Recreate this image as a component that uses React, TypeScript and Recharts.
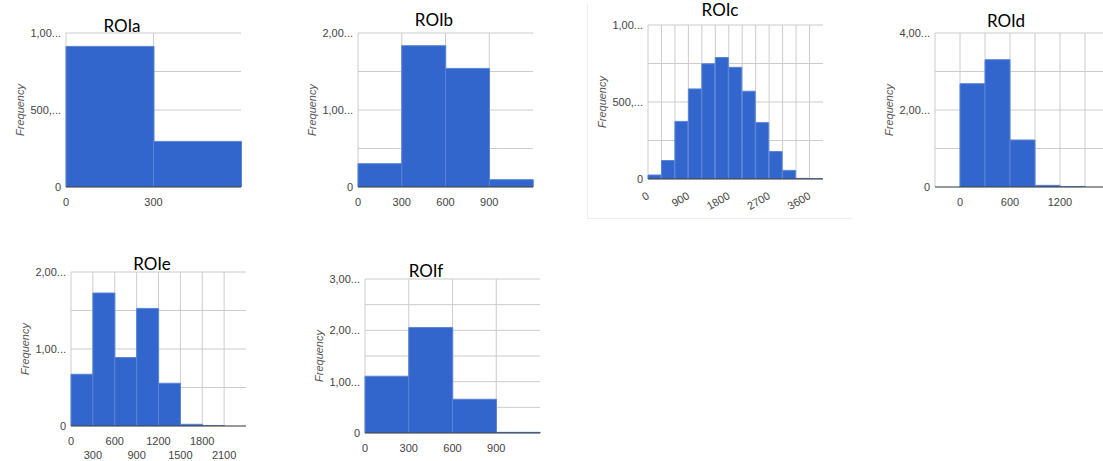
import { BarChart, Bar, XAxis, YAxis, CartesianGrid } from 'recharts';

// bucket width shared by every histogram
const BIN = 300;

const roiaBins = [0, 300];
const roiaCounts = [913, 296];
const roiaXTicks = [0, 300];
const roiaYTicks = [0, 500, 1000];
const roiaYLabels = ['0', '500,...', '1,00...'];

const roibBins = [0, 300, 600, 900];
const roibCounts = [303, 1835, 1540, 95];
const roibXTicks = [0, 300, 600, 900];
const roibYTicks = [0, 1000, 2000];
const roibYLabels = ['0', '1,00...', '2,00...'];

const roicBins = [0, 300, 600, 900, 1200, 1500, 1800, 2100, 2400, 2700, 3000, 3300, 3600];
const roicCounts = [26, 120, 374, 585, 748, 789, 725, 570, 366, 178, 56, 4, 1];
const roicXTicks = [0, 900, 1800, 2700, 3600];
const roicYTicks = [0, 500, 1000];
const roicYLabels = ['0', '500,...', '1,00...'];

const roidBins = [-300, 0, 300, 600, 900, 1200, 1500];
const roidCounts = [0, 2684, 3307, 1221, 43, 5, 0];
const roidXTicks = [0, 600, 1200];
const roidYTicks = [0, 2000, 4000];
const roidYLabels = ['0', '2,00...', '4,00...'];

const roieBins = [0, 300, 600, 900, 1200, 1500, 1800, 2100];
const roieCounts = [672, 1727, 889, 1527, 555, 22, 2, 0];
const roieXTicks = [0, 300, 600, 900, 1200, 1500, 1800, 2100];
const roieYTicks = [0, 1000, 2000];
const roieYLabels = ['0', '1,00...', '2,00...'];

const roifBins = [0, 300, 600, 900];
const roifCounts = [1106, 2056, 657, 13];
const roifXTicks = [0, 300, 600, 900];
const roifYTicks = [0, 1000, 2000, 3000];
const roifYLabels = ['0', '1,00...', '2,00...', '3,00...'];

type TickMode = 'flat' | 'rotated' | 'twoRow';

type PanelCfg = {
  title: string;
  bins: number[];
  counts: number[];
  xTicks: number[];
  yTicks: number[];
  yLabels: string[];
  yMax: number;
  yStep: number;
  tickMode: TickMode;
  plotLeft: number;
  plotTop: number;
  titleX: number;
  titleY: number;
};

const panels: PanelCfg[] = [
  { title: 'ROIa', bins: roiaBins, counts: roiaCounts, xTicks: roiaXTicks, yTicks: roiaYTicks, yLabels: roiaYLabels, yMax: 1000, yStep: 250, tickMode: 'flat', plotLeft: 66, plotTop: 33, titleX: 122, titleY: 26 },
  { title: 'ROIb', bins: roibBins, counts: roibCounts, xTicks: roibXTicks, yTicks: roibYTicks, yLabels: roibYLabels, yMax: 2000, yStep: 500, tickMode: 'flat', plotLeft: 358, plotTop: 33, titleX: 434, titleY: 20 },
  { title: 'ROIc', bins: roicBins, counts: roicCounts, xTicks: roicXTicks, yTicks: roicYTicks, yLabels: roicYLabels, yMax: 1000, yStep: 250, tickMode: 'rotated', plotLeft: 648, plotTop: 25, titleX: 720, titleY: 10 },
  { title: 'ROId', bins: roidBins, counts: roidCounts, xTicks: roidXTicks, yTicks: roidYTicks, yLabels: roidYLabels, yMax: 4000, yStep: 1000, tickMode: 'flat', plotLeft: 935, plotTop: 33, titleX: 1006, titleY: 21 },
  { title: 'ROIe', bins: roieBins, counts: roieCounts, xTicks: roieXTicks, yTicks: roieYTicks, yLabels: roieYLabels, yMax: 2000, yStep: 500, tickMode: 'twoRow', plotLeft: 71, plotTop: 272, titleX: 152, titleY: 264 },
  { title: 'ROIf', bins: roifBins, counts: roifCounts, xTicks: roifXTicks, yTicks: roifYTicks, yLabels: roifYLabels, yMax: 3000, yStep: 500, tickMode: 'flat', plotLeft: 365, plotTop: 279, titleX: 426, titleY: 271 },
];

const AXIS_W = 60;
const TOP = 12;
const RIGHT = 12;
const BOTTOM = 45;
const PLOT_W = 175;
const PLOT_H = 154;
const FONT = '"Liberation Sans", Arial, sans-serif';

const XTick = (props: any) => {
  const { x, y, payload, index, mode } = props;
  if (mode === 'rotated') {
    return (
      <text
        x={x + 2}
        y={y + 19}
        transform={`rotate(-30, ${x + 2}, ${y + 19})`}
        textAnchor="end"
        fontSize={11}
        fontFamily={FONT}
        fill="#444"
      >
        {payload.value}
      </text>
    );
  }
  const dy = mode === 'twoRow' && index % 2 === 1 ? 33 : 19;
  return (
    <text x={x} y={y + dy} textAnchor="middle" fontSize={11} fontFamily={FONT} fill="#444">
      {payload.value}
    </text>
  );
};

const FreqLabel = (props: any) => {
  const vb = props.viewBox || {};
  const cx = vb.x + vb.width - 46;
  const cy = vb.y + vb.height / 2;
  return (
    <text
      x={cx}
      y={cy}
      transform={`rotate(-90, ${cx}, ${cy})`}
      textAnchor="middle"
      dominantBaseline="central"
      fontSize={11}
      fontStyle="italic"
      fontFamily={FONT}
      fill="#555"
    >
      Frequency
    </text>
  );
};

const Panel = ({ cfg }: { cfg: PanelCfg }) => {
  const data = cfg.bins.map((b, i) => ({ bin: b, count: cfg.counts[i] }));
  const xDomain = [cfg.bins[0], cfg.bins[cfg.bins.length - 1] + BIN];
  const hGrid: number[] = [];
  for (let v = cfg.yStep; v <= cfg.yMax; v += cfg.yStep) hGrid.push(v);

  return (
    <>
      <div
        style={{
          position: 'absolute',
          left: cfg.plotLeft - AXIS_W,
          top: cfg.plotTop - TOP,
        }}
      >
        <BarChart
          width={AXIS_W + PLOT_W + RIGHT}
          height={TOP + PLOT_H + BOTTOM}
          data={data}
          margin={{ top: TOP, right: RIGHT, left: 0, bottom: 0 }}
          barCategoryGap={0}
          barGap={0}
        >
          <CartesianGrid stroke="#cccccc" horizontalValues={hGrid} verticalValues={cfg.bins} />
          <XAxis
            type="number"
            dataKey="bin"
            domain={xDomain}
            allowDataOverflow
            ticks={cfg.xTicks}
            interval={0}
            height={BOTTOM}
            axisLine={{ stroke: '#333333' }}
            tickLine={false}
            tickSize={0}
            tickMargin={0}
            tick={<XTick mode={cfg.tickMode} />}
          />
          <XAxis xAxisId="bins" type="category" dataKey="bin" hide />
          <YAxis
            type="number"
            domain={[0, cfg.yMax]}
            allowDataOverflow
            ticks={cfg.yTicks}
            interval={0}
            width={AXIS_W}
            axisLine={false}
            tickLine={false}
            tickSize={0}
            tickMargin={5}
            tickFormatter={(v: number) => cfg.yLabels[cfg.yTicks.indexOf(v)] ?? ''}
            tick={{ fill: '#444', fontSize: 11, fontFamily: FONT }}
            label={{ content: FreqLabel }}
          />
          <Bar
            xAxisId="bins"
            dataKey="count"
            fill="#3366cc"
            stroke="#5a84d6"
            strokeWidth={1}
            isAnimationActive={false}
          />
        </BarChart>
      </div>
      <div
        style={{
          position: 'absolute',
          left: cfg.titleX - 50,
          top: cfg.titleY - 9,
          width: 100,
          textAlign: 'center',
          fontFamily: 'Lato, "Open Sans", sans-serif',
          fontSize: 17,
          lineHeight: '17px',
          color: '#000',
        }}
      >
        {cfg.title}
      </div>
    </>
  );
};

const App = () => (
  <div
    style={{
      position: 'fixed',
      left: 0,
      top: 0,
      width: 1103,
      height: 461,
      overflow: 'hidden',
      background: '#fff',
    }}
  >
    <div
      style={{
        position: 'absolute',
        left: 587,
        top: 4,
        width: 264,
        height: 214,
        borderLeft: '1px solid #eeeeee',
        borderBottom: '1px solid #eeeeee',
      }}
    />
    {panels.map((p) => (
      <Panel key={p.title} cfg={p} />
    ))}
  </div>
);

export default App;
